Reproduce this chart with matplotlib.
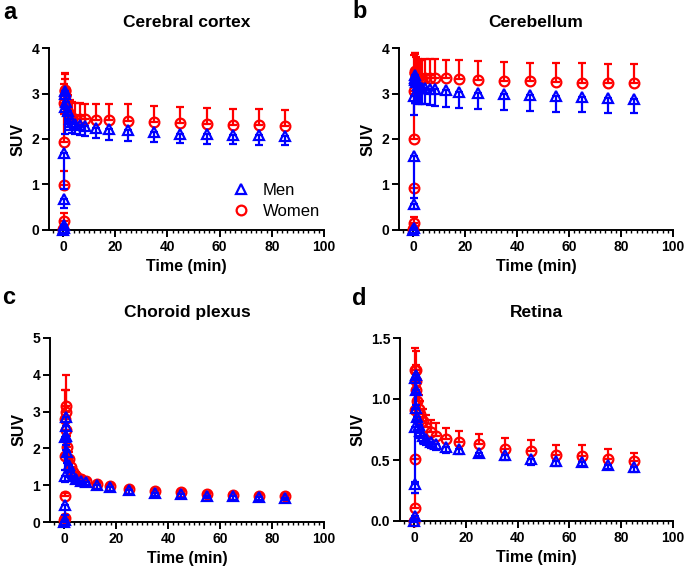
import numpy as np
import matplotlib
matplotlib.use("Agg")
import matplotlib.pyplot as plt
from matplotlib.ticker import MultipleLocator
from matplotlib.lines import Line2D

plt.rcParams['font.family'] = ['Liberation Sans', 'DejaVu Sans']

# frame mid-times (min)
t = [0.1, 0.2, 0.3, 0.4, 0.5, 0.6, 0.75, 0.9, 1.25, 1.75, 2.5, 3.5, 4.5, 6.5,
     8.5, 12.5, 17.5, 25, 35, 45, 55, 65, 75, 85]

# a - Cerebral cortex
ctx_men = [0.0, 0.05, 0.12, 0.68, 1.70, 2.70, 3.05, 3.00, 2.82, 2.62, 2.45, 2.38,
           2.33, 2.30, 2.28, 2.25, 2.21, 2.19, 2.15, 2.12, 2.10, 2.09, 2.08, 2.06]
ctx_men_sd = [0.01, 0.03, 0.05, 0.2, 0.8, 0.6, 0.4, 0.35, 0.3, 0.28, 0.25, 0.24,
              0.23, 0.22, 0.22, 0.22, 0.23, 0.23, 0.22, 0.21, 0.21, 0.21, 0.21, 0.2]
ctx_women = [0.02, 0.2, 0.99, 1.94, 2.80, 3.05, 3.08, 2.95, 2.75, 2.6, 2.5, 2.46,
             2.44, 2.43, 2.43, 2.42, 2.41, 2.39, 2.37, 2.35, 2.33, 2.31, 2.30, 2.28]
ctx_women_sd = [0.02, 0.18, 0.3, 0.6, 0.4, 0.38, 0.36, 0.36, 0.36, 0.36, 0.36, 0.36,
                0.36, 0.36, 0.35, 0.35, 0.36, 0.37, 0.36, 0.36, 0.36, 0.36, 0.35, 0.36]

# b - Cerebellum
cb_men = [0.0, 0.05, 0.58, 1.63, 2.95, 3.30, 3.40, 3.35, 3.25, 3.18, 3.14, 3.12,
          3.11, 3.10, 3.10, 3.07, 3.04, 3.01, 2.99, 2.97, 2.94, 2.93, 2.91, 2.88]
cb_men_sd = [0.01, 0.03, 0.12, 0.93, 0.42, 0.5, 0.6, 0.55, 0.45, 0.4, 0.37, 0.36,
             0.35, 0.35, 0.37, 0.36, 0.36, 0.35, 0.35, 0.35, 0.34, 0.34, 0.33, 0.31]
cb_women = [0.02, 0.15, 0.92, 2.0, 3.05, 3.45, 3.5, 3.45, 3.38, 3.33, 3.32, 3.32,
            3.33, 3.33, 3.33, 3.33, 3.32, 3.30, 3.28, 3.27, 3.25, 3.24, 3.23, 3.22]
cb_women_sd = [0.02, 0.13, 0.0, 1.0, 0.8, 0.43, 0.4, 0.42, 0.42, 0.42, 0.42, 0.42,
               0.42, 0.42, 0.42, 0.41, 0.42, 0.42, 0.42, 0.41, 0.42, 0.42, 0.41, 0.42]

# c - Choroid plexus
cp_men = [0.0, 0.05, 0.45, 1.25, 2.3, 2.85, 2.6, 2.35, 1.9, 1.55, 1.35, 1.25,
          1.18, 1.12, 1.10, 1.00, 0.94, 0.86, 0.80, 0.76, 0.72, 0.71, 0.68, 0.66]
cp_men_sd = [0.01, 0.03, 0.25, 0.15, 0.9, 0.6, 0.5, 0.4, 0.3, 0.2, 0.15, 0.12,
             0.1, 0.1, 0.1, 0.1, 0.1, 0.1, 0.08, 0.1, 0.08, 0.1, 0.08, 0.07]
cp_women = [0.05, 0.1, 0.7, 1.8, 2.8, 3.15, 3.0, 2.5, 2.05, 1.7, 1.5, 1.35,
            1.25, 1.18, 1.12, 1.03, 0.97, 0.90, 0.84, 0.81, 0.76, 0.73, 0.71, 0.70]
cp_women_sd = [0.02, 0.05, 0.1, 0.4, 0.8, 0.85, 0.6, 0.3, 0.3, 0.2, 0.15, 0.12,
               0.1, 0.08, 0.06, 0.06, 0.06, 0.06, 0.05, 0.05, 0.05, 0.05, 0.05, 0.05]

# d - Retina
ret_men = [0.0, 0.04, 0.30, 0.77, 1.17, 1.20, 1.07, 0.93, 0.85, 0.79, 0.74, 0.70,
           0.67, 0.65, 0.63, 0.61, 0.59, 0.56, 0.54, 0.51, 0.49, 0.48, 0.46, 0.44]
ret_men_sd = [0.01, 0.02, 0.07, 0.45, 0.25, 0.15, 0.12, 0.1, 0.08, 0.07, 0.06, 0.06,
              0.05, 0.05, 0.05, 0.05, 0.04, 0.03, 0.04, 0.05, 0.04, 0.03, 0.03, 0.04]
ret_women = [0.0, 0.11, 0.51, 0.91, 1.24, 1.24, 1.15, 1.07, 0.98, 0.92, 0.88, 0.82,
             0.77, 0.73, 0.70, 0.67, 0.65, 0.63, 0.59, 0.57, 0.545, 0.53, 0.51, 0.495]
ret_women_sd = [0.0, 0.12, 0.0, 0.3, 0.18, 0.15, 0.13, 0.12, 0.12, 0.11, 0.1, 0.1,
                0.1, 0.1, 0.1, 0.09, 0.09, 0.08, 0.09, 0.09, 0.08, 0.09, 0.08, 0.06]

panels = [
    ("a", "Cerebral cortex", ctx_men, ctx_men_sd, ctx_women, ctx_women_sd, 4, 1),
    ("b", "Cerebellum", cb_men, cb_men_sd, cb_women, cb_women_sd, 4, 1),
    ("c", "Choroid plexus", cp_men, cp_men_sd, cp_women, cp_women_sd, 5, 1),
    ("d", "Retina", ret_men, ret_men_sd, ret_women, ret_women_sd, 1.5, 0.5),
]

W, H = 685, 570
fig = plt.figure(figsize=(W / 100, H / 100), dpi=100)

# axes boxes in pixels: left, right, top, bottom
boxes = [(49, 324, 48, 230), (399, 673, 48, 230),
         (50, 324, 338, 522), (400, 673, 338, 521)]
letter_pos = [(3, 19), (352, 18), (2, 304), (352, 305)]

blue = '#0000ff'
red = '#ff0000'

for i, (letter, title, men, men_sd, women, women_sd, ymax, ystep) in enumerate(panels):
    l, r, tp, bt = boxes[i]
    ax = fig.add_axes([l / W, 1 - bt / H, (r - l) / W, (bt - tp) / H])

    women = np.array(women)
    men = np.array(men)
    ax.errorbar(t, women, yerr=[np.zeros(len(t)), women_sd], fmt='o', ms=7,
                mfc='none', mec=red, mew=1.6, ecolor=red, elinewidth=1.6,
                capsize=3.2, capthick=1.6, zorder=3, clip_on=False)
    ax.errorbar(t, men, yerr=[men_sd, np.zeros(len(t))], fmt='^', ms=7,
                mfc='none', mec=blue, mew=1.6, ecolor=blue, elinewidth=1.6,
                capsize=3.2, capthick=1.6, zorder=4, clip_on=False)

    ax.set_xlim(-5.4, 100)
    ax.set_ylim(0, ymax)
    ax.xaxis.set_major_locator(MultipleLocator(20))
    ax.xaxis.set_minor_locator(MultipleLocator(2))
    ax.yaxis.set_major_locator(MultipleLocator(ystep))
    if ystep < 1:
        ax.yaxis.set_major_formatter(plt.FormatStrFormatter('%.1f'))

    for s in ['top', 'right']:
        ax.spines[s].set_visible(False)
    for s in ['left', 'bottom']:
        ax.spines[s].set_linewidth(1.4)
    ax.tick_params(which='major', direction='out', length=5, width=1.4,
                   labelsize=10, pad=2)
    ax.tick_params(which='minor', axis='x', direction='out', length=2.5, width=1.0)
    for lab in ax.get_xticklabels() + ax.get_yticklabels():
        lab.set_fontweight('bold')

    ax.set_xlabel("Time (min)", fontsize=11.5, fontweight='bold', labelpad=4)
    ax.set_ylabel("SUV", fontsize=11.5, fontweight='bold', labelpad=4)
    ax.set_title(title, fontsize=12.5, fontweight='bold', pad=15)

    lx, ly = letter_pos[i]
    fig.text(lx / W, 1 - ly / H, letter, fontsize=17, fontweight='bold',
             va='baseline', ha='left')

    if i == 0:
        handles = [Line2D([], [], ls='none', marker='^', ms=7, mfc='none',
                          mec=blue, mew=1.6),
                   Line2D([], [], ls='none', marker='o', ms=7, mfc='none',
                          mec=red, mew=1.6)]
        ax.legend(handles, ["Men", "Women"], loc='lower right',
                  bbox_to_anchor=(1.04, -0.02), frameon=False, fontsize=12,
                  handlelength=1.0, handletextpad=0.8, labelspacing=0.35)

fig.savefig("out.png", dpi=100)
